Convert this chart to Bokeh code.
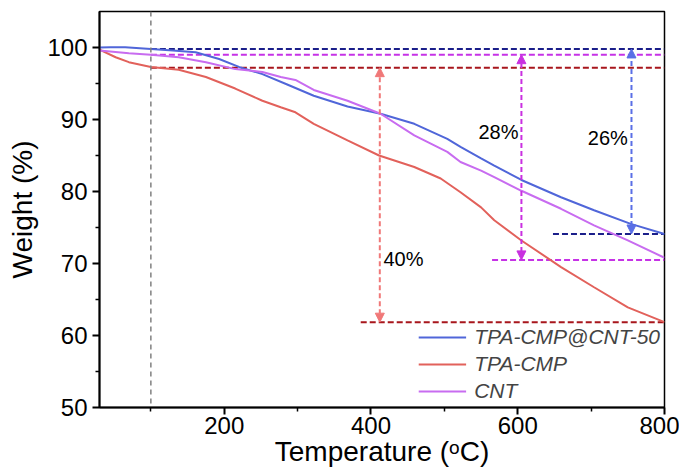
from bokeh.plotting import figure
from bokeh.models import Range1d, FixedTicker, Arrow, NormalHead, Span, ColumnDataSource
from bokeh.core.properties import value
from bokeh.embed import file_html
from bokeh.resources import INLINE

# ---------------- data ----------------
T_blue = [30, 45, 65, 100, 130, 161, 193, 220, 252, 285, 322, 368, 413, 459, 504, 522, 550, 568, 605, 659, 704, 754, 800]
W_blue = [100.0, 100.05, 100.05, 99.8, 99.6, 99.35, 98.4, 97.3, 96.3, 94.9, 93.3, 91.8, 90.8, 89.4, 87.3, 86.2, 84.6, 83.6, 81.6, 79.2, 77.4, 75.5, 74.1]

T_red = [30, 52, 70, 100, 138, 175, 215, 252, 277, 297, 322, 368, 411, 459, 495, 522, 550, 568, 605, 659, 704, 750, 800]
W_red = [99.7, 98.65, 97.96, 97.3, 96.9, 95.9, 94.3, 92.6, 91.7, 91.0, 89.4, 87.1, 85.0, 83.4, 81.8, 79.9, 77.8, 76.0, 73.2, 69.5, 66.7, 63.9, 61.85]

T_cnt = [30, 70, 100, 138, 175, 215, 252, 277, 297, 322, 368, 413, 459, 504, 522, 550, 568, 605, 659, 704, 750, 800]
W_cnt = [99.6, 99.2, 99.0, 98.65, 97.96, 97.0, 96.6, 95.9, 95.5, 94.1, 92.6, 90.8, 87.8, 85.5, 84.1, 82.9, 82.0, 80.1, 77.6, 75.3, 73.2, 70.8]

series_names = ["TPA-CMP@CNT-50", "TPA-CMP", "CNT"]

# reference levels (weight %) and the temperatures where the dashed guides start
onset_T = 100
top_levels = [99.8, 97.2, 99.0]          # blue, red, cnt
bottom_levels = [74.1, 61.85, 70.5]
bottom_start_T = [648, 386, 565]
end_T = 800

# arrows: temperature position, labels
arrow_T = [755, 412, 605]
loss_labels = ["26%", "40%", "28%"]
label_T = [750, 417, 601]
label_W = [87.5, 70.6, 88.2]
label_align = ["right", "left", "right"]

x_major = [200, 400, 600, 800]
x_minor = [100, 300, 500, 700]
y_major = [50, 60, 70, 80, 90, 100]
y_minor = [55, 65, 75, 85, 95]

# ---------------- styling ----------------
FONT = "Liberation Sans"
curve_colors = ["#5066d9", "#e2615b", "#c86cf0"]
guide_colors = ["#1b1f8a", "#a8161c", "#c632e6"]
arrow_colors = ["#5a6fe6", "#f07878", "#c930e0"]

p = figure(width=679, height=474, output_backend="svg", toolbar_location=None,
           x_range=Range1d(30, 800), y_range=Range1d(50, 105),
           min_border_left=99, min_border_right=15, min_border_top=11, min_border_bottom=67)

p.xgrid.visible = False
p.ygrid.visible = False
p.outline_line_color = "black"
p.outline_line_width = 1.5
p.background_fill_color = "white"
p.border_fill_color = "white"

p.xaxis.ticker = FixedTicker(ticks=x_major, minor_ticks=x_minor)
p.yaxis.ticker = FixedTicker(ticks=y_major, minor_ticks=y_minor)
p.xaxis.axis_label = "Temperature (ᵒC)"
p.yaxis.axis_label = "Weight (%)"
for ax in (p.xaxis, p.yaxis):
    ax.axis_line_width = 2
    ax.axis_line_color = "black"
    ax.major_tick_in = 0
    ax.major_tick_out = 7
    ax.minor_tick_in = 0
    ax.minor_tick_out = 4
    ax.major_tick_line_width = 2
    ax.minor_tick_line_width = 1.5
    ax.major_label_text_font = FONT
    ax.major_label_text_font_size = "24px"
    ax.major_label_text_color = "black"
    ax.axis_label_text_font = FONT
    ax.axis_label_text_font_size = "28px"
    ax.axis_label_text_font_style = "normal"
    ax.axis_label_text_color = "black"
p.xaxis.major_label_standoff = 2
p.xaxis.axis_label_standoff = -1
p.yaxis.major_label_standoff = 5
p.yaxis.axis_label_standoff = 6

# vertical grey dashed line at onset temperature
p.add_layout(Span(location=onset_T, dimension="height", line_color="#808080",
                  line_dash="5 4", line_width=1.5))

# dashed horizontal guides
top_src = ColumnDataSource(dict(x0=[onset_T] * 3, x1=[end_T] * 3, y=top_levels, c=guide_colors))
bot_src = ColumnDataSource(dict(x0=bottom_start_T, x1=[end_T] * 3, y=bottom_levels, c=guide_colors))
p.segment(x0="x0", y0="y", x1="x1", y1="y", source=top_src, line_color="c", line_dash="6 3", line_width=2)
p.segment(x0="x0", y0="y", x1="x1", y1="y", source=bot_src, line_color="c", line_dash="6 3", line_width=2)

# curves
for T, W, c, name in zip([T_blue, T_red, T_cnt], [W_blue, W_red, W_cnt], curve_colors, series_names):
    p.line(T, W, line_color=c, line_width=2, legend_label=name)

# arrows
for xa, yt, yb, c in zip(arrow_T, top_levels, bottom_levels, arrow_colors):
    p.add_layout(Arrow(x_start=xa, y_start=yb, x_end=xa, y_end=yt,
                       start=NormalHead(size=9, fill_color=c, line_color=c),
                       end=NormalHead(size=9, fill_color=c, line_color=c),
                       line_color=c, line_dash="5 3", line_width=2))

p.text(x=label_T, y=label_W, text=loss_labels, text_align=label_align,
       text_baseline="middle", text_font=value(FONT), text_font_size="20px", text_color="black")

leg = p.legend[0]
leg.location = "bottom_right"
leg.margin = 0
leg.padding = 4
leg.spacing = 3
leg.glyph_width = 48
leg.label_standoff = 8
leg.label_text_font = FONT
leg.label_text_font_size = "21px"
leg.label_text_font_style = "italic"
leg.background_fill_alpha = 0
leg.border_line_alpha = 0

open("out.html", "w").write(file_html(p, INLINE))
